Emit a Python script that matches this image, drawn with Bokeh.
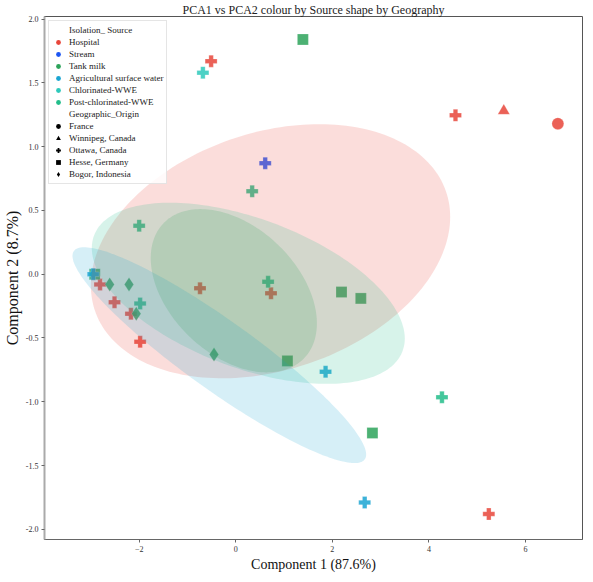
import numpy as np
from bokeh.plotting import figure
from bokeh.models import (ColumnDataSource, Legend, LegendItem, Range1d,
                          FixedTicker, PrintfTickFormatter)
from bokeh.embed import file_html
from bokeh.resources import INLINE

# ---------------- data ----------------
pc1 = [-0.51, 4.55, 5.55, 6.67, -2.81, -2.51, -2.17, -1.98, -0.74, 0.73, 5.24,
       0.61,
       1.39, 2.19, 2.59, 1.07, 2.83, -2.92, -2.61, -2.21, -2.06, -0.45,
       -2.95, 1.86, 2.67,
       -0.68,
       0.34, 0.67, 4.27, -2.00, -1.98]
pc2 = [1.67, 1.245, 1.28, 1.18, -0.08, -0.22, -0.31, -0.53, -0.11, -0.15, -1.88,
       0.87,
       1.84, -0.14, -0.19, -0.68, -1.245, 0.0, -0.08, -0.08, -0.31, -0.63,
       0.0, -0.765, -1.79,
       1.58,
       0.65, -0.06, -0.965, 0.38, -0.23]
source = (["Hospital"] * 11 + ["Stream"] + ["Tank milk"] * 10 +
          ["Agricultural surface water"] * 3 + ["Chlorinated-WWE"] +
          ["Post-chlorinated-WWE"] * 5)
geography = (["Ottawa, Canada", "Ottawa, Canada", "Winnipeg, Canada", "France"] +
             ["Ottawa, Canada"] * 7 + ["Ottawa, Canada"] +
             ["Hesse, Germany"] * 6 + ["Bogor, Indonesia"] * 4 +
             ["Ottawa, Canada"] * 3 + ["Ottawa, Canada"] + ["Ottawa, Canada"] * 5)

source_names = ["Hospital", "Stream", "Tank milk", "Agricultural surface water",
                "Chlorinated-WWE", "Post-chlorinated-WWE"]
geo_names = ["France", "Winnipeg, Canada", "Ottawa, Canada", "Hesse, Germany",
             "Bogor, Indonesia"]

# confidence ellipses: centre, half extent in x / y, correlation
ell_source = ["Hospital", "Post-chlorinated-WWE", "Agricultural surface water", "Tank milk"]
ell_cx = [0.72, 0.26, -0.34, -0.04]
ell_cy = [0.18, -0.15, -0.635, -0.13]
ell_hx = [3.72, 3.24, 3.04, 1.72]
ell_hy = [0.996, 0.71, 0.846, 0.64]
ell_r = [0.27, -0.5, -0.92, -0.4]

x_ticks = [-2, 0, 2, 4, 6]
y_ticks = [-2.0, -1.5, -1.0, -0.5, 0.0, 0.5, 1.0, 1.5, 2.0]

# ---------------- styles ----------------
palette = {"Hospital": "#e8453a", "Stream": "#1c55f2", "Tank milk": "#2da35a",
           "Agricultural surface water": "#1aa5d2", "Chlorinated-WWE": "#2ec9bb",
           "Post-chlorinated-WWE": "#22bd8a"}
markers = {"France": "circle", "Winnipeg, Canada": "triangle", "Ottawa, Canada": "plus",
           "Hesse, Germany": "square", "Bogor, Indonesia": "diamond"}
sizes = {"France": 12, "Winnipeg, Canada": 12, "Ottawa, Canada": 12,
         "Hesse, Germany": 11, "Bogor, Indonesia": 14}
FONT = "Liberation Serif"

p = figure(width=585, height=574, output_backend="svg", toolbar_location=None,
           x_range=Range1d(-3.96, 7.18), y_range=Range1d(-2.08, 2.02),
           title="PCA1 vs PCA2 colour by Source shape by Geography",
           min_border_left=0, min_border_right=3, min_border_top=0, min_border_bottom=0)
p.title.align = "center"
p.title.text_font = FONT
p.title.text_font_size = "12px"
p.title.text_font_style = "normal"
p.title.text_color = "#222"
p.title.standoff = 0
p.title.offset = 0

p.xgrid.visible = False
p.ygrid.visible = False
p.outline_line_color = "#555555"
p.outline_line_width = 1

src = ColumnDataSource(dict(
    x=pc1, y=pc2, source=source, geography=geography,
    color=[palette[s] for s in source],
    marker=[markers[g] for g in geography],
    size=[sizes[g] for g in geography]))
p.scatter("x", "y", source=src, marker="marker", size="size",
          fill_color="color", fill_alpha=0.85, line_color="white",
          line_width=0.4, line_alpha=0.6)

# ellipses (drawn over the points, translucent)
t = np.linspace(0, 2 * np.pi, 200)
exs, eys, ecol = [], [], []
for s, cx, cy, hx, hy, r in zip(ell_source, ell_cx, ell_cy, ell_hx, ell_hy, ell_r):
    exs.append(list(cx + hx * np.cos(t)))
    eys.append(list(cy + hy * (r * np.cos(t) + np.sqrt(1 - r * r) * np.sin(t))))
    ecol.append(palette[s])
p.patches(exs, eys, fill_color=ecol, fill_alpha=0.18, line_alpha=0)

# axes
p.xaxis.ticker = FixedTicker(ticks=x_ticks)
p.yaxis.ticker = FixedTicker(ticks=y_ticks)
p.yaxis.formatter = PrintfTickFormatter(format="%.1f")
p.xaxis.axis_label = "Component 1 (87.6%)"
p.yaxis.axis_label = "Component 2 (8.7%)"
for ax in (p.xaxis, p.yaxis):
    ax.axis_label_text_font = FONT
    ax.axis_label_text_font_style = "normal"
    ax.axis_label_text_color = "#111"
    ax.axis_label_standoff = 2
    ax.major_label_text_font = FONT
    ax.major_label_text_font_size = "8px"
    ax.major_label_text_color = "#333"
    ax.major_label_standoff = 3
    ax.major_tick_in = 0
    ax.major_tick_out = 3
    ax.major_tick_line_color = "#666"
    ax.minor_tick_line_color = None
p.xaxis.axis_label_text_font_size = "14px"
p.yaxis.axis_label_text_font_size = "16px"
p.xaxis.axis_line_color = "#666666"
p.yaxis.axis_line_color = "#aaaaaa"
p.yaxis.axis_line_width = 2

# legend (proxy renderers with a single off-canvas NaN point)
NAN = [float("nan")]
items = []
blank = p.scatter(x=NAN, y=NAN, marker="circle", size=1, fill_alpha=0, line_alpha=0)
items.append(LegendItem(label="Isolation_ Source", renderers=[blank]))
for s in source_names:
    r = p.scatter(x=NAN, y=NAN, marker="circle", size=5, fill_color=palette[s], line_alpha=0)
    items.append(LegendItem(label=s, renderers=[r]))
blank2 = p.scatter(x=NAN, y=NAN, marker="circle", size=1, fill_alpha=0, line_alpha=0)
items.append(LegendItem(label="Geographic_Origin", renderers=[blank2]))
for g in geo_names:
    r = p.scatter(x=NAN, y=NAN, marker=markers[g], size=5, fill_color="black", line_alpha=0)
    items.append(LegendItem(label=g, renderers=[r]))

legend = Legend(items=items, location="top_left", margin=4, padding=3, spacing=0,
                glyph_width=12, glyph_height=12, label_height=12, label_standoff=5,
                label_text_font=FONT, label_text_font_size="9px",
                label_text_color="#222", border_line_color="#cccccc",
                background_fill_alpha=0.85)
p.add_layout(legend)

open("out.html", "w").write(file_html(p, INLINE))
